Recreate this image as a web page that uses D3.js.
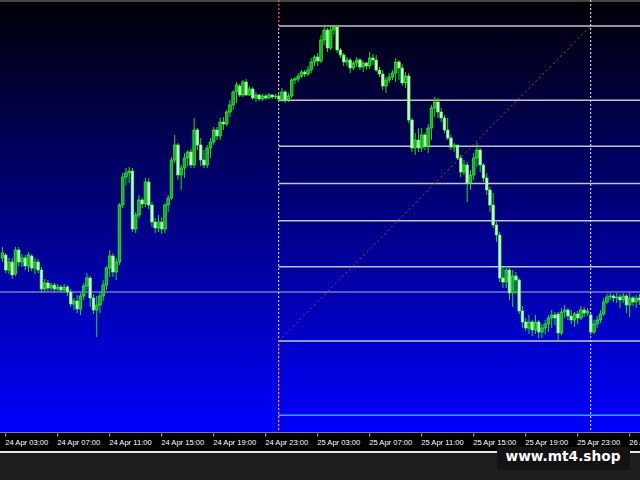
<!DOCTYPE html>
<html>
<head>
<meta charset="utf-8">
<script src="https://cdn.jsdelivr.net/npm/d3@7"></script>
<style>
html,body{margin:0;padding:0;background:#1e1e1e;overflow:hidden;}
svg{display:block;}
</style>
</head>
<body>
<svg id="chart" width="640" height="480"></svg>
<script>
// ---- DATA ----
const startTime = "2024-04-24T02:45:00Z"; // first (partially visible) M15 bar
const barMinutes = 15;
// [open, high, low, close]
const ohlc = [
[2324.2,2325.3,2323.8,2324.7],[2324.5,2324.7,2322.7,2323.0],[2323.0,2324.2,2322.6,2323.8],[2323.8,2324.2,2322.1,2322.5],
[2322.6,2325.3,2322.4,2325.0],[2325.0,2325.3,2323.4,2323.8],[2323.8,2324.6,2323.3,2324.2],[2324.2,2324.5,2323.0,2323.4],
[2323.4,2324.8,2322.8,2324.5],[2324.4,2324.6,2322.9,2323.2],[2323.2,2324.2,2322.6,2323.8],[2323.8,2324.1,2322.7,2323.0],
[2323.0,2323.3,2320.7,2321.1],[2321.1,2322.1,2320.8,2321.7],[2321.7,2322.0,2320.8,2321.2],[2321.2,2321.7,2320.9,2321.5],
[2321.5,2321.7,2320.8,2321.1],[2321.1,2321.6,2320.9,2321.3],[2321.3,2321.5,2320.7,2321.0],[2321.0,2321.6,2320.8,2321.3],
[2321.3,2321.5,2320.4,2320.8],[2320.8,2321.1,2319.3,2319.6],[2319.6,2320.2,2319.0,2319.9],[2319.9,2320.5,2318.7,2319.1],
[2319.1,2320.7,2318.5,2320.4],[2320.4,2321.7,2320.0,2321.4],[2321.4,2322.7,2321.0,2322.2],[2322.2,2322.4,2319.3,2320.2],
[2320.2,2320.6,2318.6,2319.0],[2319.0,2320.4,2316.3,2319.5],[2319.5,2320.8,2318.7,2320.4],[2320.4,2322.0,2319.9,2321.5],
[2321.5,2323.4,2321.0,2323.2],[2323.2,2325.0,2322.3,2324.4],[2324.4,2324.7,2322.3,2322.8],[2322.8,2324.2,2322.0,2323.8],
[2323.8,2329.7,2323.5,2329.5],[2329.5,2332.7,2329.2,2332.3],[2332.3,2333.2,2331.5,2332.7],[2332.7,2333.3,2331.7,2332.9],
[2332.9,2333.2,2326.8,2327.1],[2327.1,2328.8,2326.7,2328.5],[2328.5,2330.5,2328.2,2330.0],[2330.0,2330.2,2329.2,2329.6],
[2329.6,2332.2,2329.3,2331.8],[2331.8,2332.2,2329.1,2329.5],[2329.5,2329.8,2327.3,2327.8],[2327.8,2328.2,2326.7,2327.2],
[2327.2,2328.5,2326.8,2327.8],[2327.8,2328.3,2326.6,2327.1],[2327.1,2329.7,2326.7,2329.5],[2329.5,2330.5,2328.8,2330.2],
[2330.2,2334.3,2330.0,2334.0],[2334.0,2336.5,2333.7,2335.5],[2335.5,2335.7,2332.0,2332.5],[2332.5,2333.5,2331.0,2333.2],
[2333.2,2334.7,2332.2,2334.2],[2334.2,2335.0,2333.3,2334.8],[2334.8,2335.1,2333.2,2333.5],[2333.5,2338.2,2333.2,2337.0],
[2337.0,2337.2,2335.0,2335.5],[2335.5,2336.2,2333.4,2334.0],[2334.0,2335.0,2333.2,2333.5],[2333.5,2335.5,2333.2,2335.2],
[2335.2,2336.2,2334.2,2335.8],[2335.8,2337.3,2335.5,2337.0],[2337.0,2337.3,2336.0,2336.4],[2336.4,2338.2,2336.0,2337.8],
[2337.8,2338.3,2337.0,2337.6],[2337.6,2339.0,2337.4,2338.8],[2338.8,2340.0,2338.3,2339.5],[2339.5,2341.0,2339.0,2340.8],
[2340.8,2341.8,2339.7,2341.5],[2341.4,2341.6,2340.3,2340.5],[2340.5,2342.0,2340.3,2341.8],[2341.8,2342.1,2340.4,2340.5],
[2340.5,2341.4,2340.4,2341.1],[2341.1,2341.3,2340.0,2340.2],[2340.2,2340.8,2339.8,2340.5],[2340.5,2340.6,2339.9,2340.1],
[2340.1,2340.6,2339.9,2340.4],[2340.4,2340.6,2340.0,2340.2],[2340.2,2340.7,2340.1,2340.5],[2340.5,2340.6,2340.1,2340.3],
[2340.3,2340.6,2340.1,2340.4],[2340.4,2340.7,2339.9,2340.1],[2340.1,2341.2,2339.8,2340.8],[2340.8,2341.0,2339.7,2340.0],
[2340.0,2340.7,2339.8,2340.4],[2340.4,2342.2,2340.2,2342.0],[2342.0,2342.3,2341.6,2342.1],[2342.1,2342.7,2341.8,2342.4],
[2342.4,2343.0,2342.2,2342.8],[2342.8,2343.0,2342.3,2342.6],[2342.6,2343.4,2342.4,2343.0],[2343.0,2344.2,2342.7,2343.8],
[2343.8,2344.5,2343.4,2344.3],[2344.3,2344.7,2343.4,2343.9],[2343.9,2346.5,2343.7,2346.0],[2346.0,2347.4,2345.5,2347.0],
[2347.0,2347.2,2344.8,2345.2],[2345.2,2347.4,2345.0,2347.0],[2347.0,2347.5,2346.5,2347.3],[2347.3,2347.5,2344.7,2345.0],
[2345.0,2345.2,2344.2,2344.5],[2344.5,2344.7,2343.4,2343.8],[2343.8,2344.3,2343.4,2344.0],[2344.0,2344.2,2342.7,2343.2],
[2343.2,2343.9,2343.0,2343.7],[2343.7,2344.3,2343.3,2344.0],[2344.0,2344.2,2343.0,2343.3],[2343.3,2343.9,2342.8,2343.7],
[2343.7,2343.8,2343.0,2343.4],[2343.4,2344.8,2343.1,2344.2],[2344.2,2344.6,2343.5,2344.0],[2344.0,2344.5,2342.8,2343.0],
[2343.0,2343.3,2342.3,2342.6],[2342.6,2343.0,2341.0,2341.4],[2341.4,2342.3,2340.7,2342.0],[2342.0,2342.7,2341.7,2342.3],
[2342.3,2343.0,2342.0,2342.7],[2342.7,2344.2,2341.8,2343.8],[2343.8,2344.0,2342.0,2343.2],[2343.2,2343.6,2341.4,2341.7],
[2341.7,2342.8,2341.2,2342.4],[2342.4,2342.7,2337.7,2338.0],[2338.0,2338.2,2334.8,2335.2],[2335.2,2336.7,2334.5,2336.0],
[2336.0,2337.2,2334.8,2335.2],[2335.2,2337.2,2334.8,2336.5],[2336.5,2336.7,2335.0,2335.4],[2335.4,2337.6,2334.7,2337.2],
[2337.2,2339.5,2336.0,2339.2],[2339.2,2340.3,2338.3,2339.8],[2339.8,2340.2,2338.2,2338.8],[2338.8,2339.2,2337.8,2338.2],
[2338.2,2338.5,2336.7,2337.0],[2337.0,2338.2,2336.0,2336.2],[2336.2,2336.5,2335.0,2335.3],[2335.3,2335.7,2334.8,2335.5],
[2335.5,2335.5,2334.0,2334.2],[2334.2,2334.5,2332.3,2332.8],[2332.8,2334.0,2332.5,2333.5],[2333.5,2333.8,2329.8,2331.7],
[2331.7,2333.0,2331.0,2332.5],[2332.5,2334.7,2332.0,2334.2],[2334.2,2335.7,2333.3,2335.0],[2335.0,2335.2,2332.8,2333.5],
[2333.5,2333.7,2331.8,2332.2],[2332.2,2332.7,2330.5,2331.0],[2331.0,2331.3,2328.8,2329.5],[2329.5,2330.7,2327.2,2327.5],
[2327.5,2327.8,2325.8,2326.5],[2326.5,2326.8,2321.8,2322.2],[2322.2,2323.3,2321.2,2321.8],[2321.8,2323.4,2321.2,2323.0],
[2323.0,2323.2,2320.0,2320.7],[2320.7,2323.0,2319.3,2322.4],[2322.4,2322.8,2320.6,2322.0],[2322.0,2322.2,2318.6,2318.9],
[2318.9,2319.4,2317.2,2317.8],[2317.8,2318.2,2316.9,2317.2],[2317.2,2318.5,2316.6,2317.8],[2317.8,2318.0,2316.4,2317.0],
[2317.0,2318.5,2316.6,2317.8],[2317.8,2318.0,2316.2,2316.8],[2316.8,2317.6,2316.2,2317.2],[2317.2,2318.0,2316.6,2317.6],
[2317.6,2318.5,2316.8,2318.2],[2318.2,2319.0,2317.2,2318.5],[2318.5,2318.8,2317.5,2318.2],[2318.6,2318.8,2316.0,2316.7],
[2316.7,2319.2,2316.5,2318.8],[2318.8,2319.5,2318.2,2319.0],[2319.0,2319.2,2318.0,2318.4],[2318.4,2319.0,2317.6,2318.0],
[2318.0,2318.8,2317.3,2318.6],[2318.6,2318.9,2317.6,2318.2],[2318.2,2319.4,2318.0,2319.0],[2319.0,2319.3,2318.3,2318.7],
[2318.7,2319.2,2318.4,2318.9],[2318.5,2318.6,2316.5,2316.8],[2316.8,2318.0,2316.6,2317.6],[2317.6,2318.4,2317.2,2318.0],
[2318.0,2319.0,2317.7,2318.6],[2318.6,2320.2,2318.4,2319.8],[2319.8,2320.6,2319.6,2320.3],[2320.3,2320.7,2320.0,2320.4],
[2320.4,2320.6,2319.8,2320.2],[2320.2,2320.7,2319.7,2320.3],[2320.3,2320.6,2319.2,2320.0],[2320.0,2320.7,2319.7,2320.4],
[2320.4,2320.6,2318.7,2319.5],[2319.5,2320.7,2318.3,2320.2],[2320.2,2320.4,2319.4,2319.8],[2319.8,2320.5,2319.2,2320.2],
[2320.2,2320.6,2319.5,2320.0]
];
const priceMin = 2306.8, priceMax = 2350.0;
const fibLow = 2315.9, fibHigh = 2347.4;
const fibLowTime = "2024-04-25T00:00:00Z", fibHighTime = "2024-04-26T00:00:00Z";
const fibRatios = [0, 0.236, 0.382, 0.5, 0.618, 0.764, 1, -0.236];
const hLinePrice = 2320.8;
const separators = ["2024-04-25T00:00:00Z", "2024-04-26T00:00:00Z"];
const tickTimes = ["2024-04-24T03:00:00Z","2024-04-24T07:00:00Z","2024-04-24T11:00:00Z","2024-04-24T15:00:00Z",
  "2024-04-24T19:00:00Z","2024-04-24T23:00:00Z","2024-04-25T03:00:00Z","2024-04-25T07:00:00Z","2024-04-25T11:00:00Z",
  "2024-04-25T15:00:00Z","2024-04-25T19:00:00Z","2024-04-25T23:00:00Z","2024-04-26T03:00:00Z"];
const tickLabels = ["24 Apr 03:00","24 Apr 07:00","24 Apr 11:00","24 Apr 15:00","24 Apr 19:00","24 Apr 23:00",
  "25 Apr 03:00","25 Apr 07:00","25 Apr 11:00","25 Apr 15:00","25 Apr 19:00","25 Apr 23:00","26 Apr 03:00"];
const watermark = "www.mt4.shop";

// ---- DRAW ----
const W = 640, H = 480, plotH = 432;
const svg = d3.select("#chart");
const t0 = new Date(startTime);
const times = ohlc.map((d, i) => new Date(+t0 + i * barMinutes * 60000));
const x = d3.scaleTime().domain([times[0], times[times.length - 1]]).range([2.45, 639.45]);
const y = d3.scaleLinear().domain([priceMin, priceMax]).range([plotH, 0]);

const defs = svg.append("defs");
const grad = defs.append("linearGradient").attr("id", "bg").attr("x1", 0).attr("y1", 0).attr("x2", 0).attr("y2", 1);
grad.append("stop").attr("offset", "0%").attr("stop-color", "#000004");
grad.append("stop").attr("offset", "100%").attr("stop-color", "#0000ff");
defs.append("clipPath").attr("id", "clip").append("rect").attr("width", W).attr("height", plotH);

svg.append("rect").attr("width", W).attr("height", H).attr("fill", "#1e1e1e");
svg.append("rect").attr("width", W).attr("height", plotH).attr("fill", "url(#bg)");

const plot = svg.append("g").attr("clip-path", "url(#clip)");

// top border line
plot.append("line").attr("x1", 0).attr("x2", W).attr("y1", 1).attr("y2", 1)
  .attr("stroke", "#8a8a8a").attr("stroke-width", 1.2);

// horizontal line full width
plot.append("line").attr("x1", 0).attr("x2", W).attr("y1", y(hLinePrice)).attr("y2", y(hLinePrice))
  .attr("stroke", "#b4b4d4").attr("stroke-width", 1);

// fib levels
const fx = x(new Date(fibLowTime));
plot.selectAll(".fib").data(fibRatios).join("line")
  .attr("x1", fx).attr("x2", W)
  .attr("y1", r => y(fibLow + r * (fibHigh - fibLow)))
  .attr("y2", r => y(fibLow + r * (fibHigh - fibLow)))
  .attr("stroke", r => r < 0 ? "#3aa6ff" : "#c4c4c4")
  .attr("stroke-width", 1.5);

// separators
separators.forEach(s => {
  plot.append("line").attr("x1", x(new Date(s))).attr("x2", x(new Date(s))).attr("y1", 0).attr("y2", plotH)
    .attr("stroke", "#e8e8e8").attr("stroke-width", 1).attr("stroke-dasharray", "2,2");
});
// red dotted vertical at fib anchor
plot.append("line").attr("x1", fx).attr("x2", fx).attr("y1", 0).attr("y2", y(fibHigh))
  .attr("stroke", "#e03030").attr("stroke-width", 1).attr("stroke-dasharray", "2,2");
plot.append("line").attr("x1", fx).attr("x2", fx).attr("y1", y(fibLow)).attr("y2", plotH)
  .attr("stroke", "#e03030").attr("stroke-width", 1).attr("stroke-dasharray", "2,2");
// fib trend line
plot.append("line").attr("x1", fx).attr("y1", y(fibLow))
  .attr("x2", x(new Date(fibHighTime))).attr("y2", y(fibHigh))
  .attr("stroke", "#e03030").attr("stroke-width", 1).attr("stroke-dasharray", "2,3");

// candles
const bw = 2.7;
const cg = plot.append("g");
cg.selectAll(".wick").data(ohlc).join("line")
  .attr("x1", (d, i) => x(times[i])).attr("x2", (d, i) => x(times[i]))
  .attr("y1", d => y(d[1])).attr("y2", d => y(d[2]))
  .attr("stroke", "#18e018").attr("stroke-width", 1);
cg.selectAll(".body").data(ohlc).join("rect")
  .attr("x", (d, i) => x(times[i]) - bw / 2)
  .attr("width", bw)
  .attr("y", d => y(Math.max(d[0], d[3])))
  .attr("height", d => Math.max(1, Math.abs(y(d[0]) - y(d[3]))))
  .attr("fill", d => d[3] >= d[0] ? "#14b014" : "#c4fbc4")
  .attr("stroke", d => d[3] >= d[0] ? "#3cff3c" : "#5ef05e")
  .attr("stroke-width", 0.6);

// axis strip
svg.append("rect").attr("x", 0).attr("y", plotH).attr("width", W).attr("height", 19.5).attr("fill", "#000");
svg.append("line").attr("x1", 0).attr("x2", W).attr("y1", plotH + 0.5).attr("y2", plotH + 0.5)
  .attr("stroke", "#808080").attr("stroke-width", 1);
svg.append("line").attr("x1", 0).attr("x2", W).attr("y1", 452).attr("y2", 452)
  .attr("stroke", "#e6e6e6").attr("stroke-width", 2);

const ticks = tickTimes.map((t, i) => ({ t: new Date(t), label: tickLabels[i] }));
const ax = svg.append("g");
ax.selectAll(".tk").data(ticks).join("line")
  .attr("x1", d => x(d.t)).attr("x2", d => x(d.t)).attr("y1", 433.5).attr("y2", 436.5)
  .attr("stroke", "#c0c0c0").attr("stroke-width", 1);
ax.selectAll(".tl").data(ticks).join("text")
  .attr("x", d => x(d.t) - 0.5).attr("y", 444.5)
  .attr("fill", "#ffffff").attr("font-family", "Liberation Sans, Arial, sans-serif").attr("font-size", "7.6px")
  .text(d => d.label);

// watermark
svg.append("rect").attr("x", 497).attr("y", 447).attr("width", 133).attr("height", 23).attr("rx", 2)
  .attr("fill", "#131313");
svg.append("text").attr("x", 563).attr("y", 460.8).attr("text-anchor", "middle")
  .attr("fill", "#ffffff").attr("font-family", "DejaVu Sans, sans-serif").attr("font-weight", "bold")
  .attr("font-size", "13.7px").text(watermark);
</script>
</body>
</html>
